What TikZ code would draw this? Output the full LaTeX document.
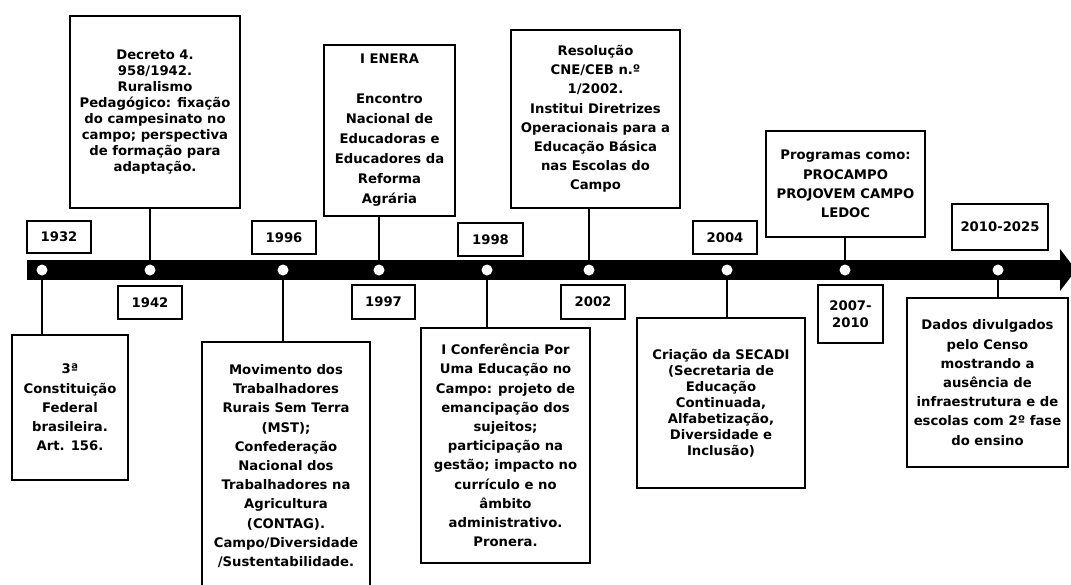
\documentclass[tikz,border=0pt]{standalone}
\usepackage{fontspec}
\setmainfont{DejaVu Sans}
\usepackage{tikz}
\usetikzlibrary{positioning}
\tikzset{>=latex}
\tikzset{
  yearbox/.style={draw, line width=1.4pt, inner sep=0pt, align=center,
    font=\bfseries\fontsize{13.2}{17}\selectfont},
  descbox/.style={draw, line width=1.4pt, inner sep=0pt, align=center,
    font=\bfseries\fontsize{13.2}{19.2}\selectfont},
  tightbox/.style={font=\bfseries\fontsize{13.2}{16}\selectfont},
  widebox/.style={font=\bfseries\fontsize{13.2}{20}\selectfont},
  dot/.style={circle, fill=white, inner sep=0pt, minimum size=11pt},
  link/.style={line width=1.4pt}
}

\begin{document}
\begin{tikzpicture}[x=1pt, y=-1pt]
\useasboundingbox (0,0) rectangle (1071,584);
\fill (27,260) rectangle (1060,280);
\fill (1060,249) -- (1076,270) -- (1060,291) -- cycle;
\node[dot] (d1932) at (42,270) {};
\node[dot] (d1942) at (150,270) {};
\node[dot] (d1996) at (283,270) {};
\node[dot] (d1997) at (379,270) {};
\node[dot] (d1998) at (487,270) {};
\node[dot] (d2002) at (589,270) {};
\node[dot] (d2004) at (727,270) {};
\node[dot] (d2007) at (845,270) {};
\node[dot] (d2010) at (998,270) {};

\node[yearbox, minimum width=64pt, minimum height=32pt] (y1932) at (59,237) {1932};
\node[yearbox, minimum width=64pt, minimum height=33pt] (y1942) at (150,302.5) {1942};
\node[yearbox, minimum width=64pt, minimum height=33pt] (y1996) at (284,237.5) {1996};
\node[yearbox, minimum width=63pt, minimum height=34pt] (y1997) at (383.5,302) {1997};
\node[yearbox, minimum width=65pt, minimum height=33pt] (y1998) at (490.5,239.5) {1998};
\node[yearbox, minimum width=64pt, minimum height=34pt] (y2002) at (593,302) {2002};
\node[yearbox, minimum width=64pt, minimum height=33pt] (y2004) at (725,237.5) {2004};
\node[yearbox, minimum width=65pt, minimum height=58pt] (y2007) at (850.5,314) {2007-\\2010};
\node[yearbox, minimum width=96pt, minimum height=46pt] (y2010) at (1000,227) {2010-2025};

\node[descbox, minimum width=116pt, minimum height=145pt] (const) at (70,407.5)
  {3ª\\Constituição\\Federal\\brasileira.\\Art. 156.};
\node[descbox, tightbox, minimum width=170pt, minimum height=192pt] (decreto) at (155,112)
  {Decreto 4.\\958/1942.\\Ruralismo\\Pedagógico: fixação\\do campesinato no\\campo; perspectiva\\de formação para\\adaptação.};
\node[descbox, minimum width=168pt, minimum height=248pt] (mst) at (286,466)
  {Movimento dos\\Trabalhadores\\Rurais Sem Terra\\(MST);\\Confederação\\Nacional dos\\Trabalhadores na\\Agricultura\\(CONTAG).\\Campo/Diversidade\\/Sustentabilidade.};
\node[descbox, widebox, minimum width=131pt, minimum height=171pt] (enera) at (389.5,130.5)
  {I ENERA\\[20pt]Encontro\\Nacional de\\Educadoras e\\Educadores da\\Reforma\\Agrária};
\node[descbox, minimum width=169pt, minimum height=235pt] (conf) at (505.5,445.5)
  {I Conferência Por\\Uma Educação no\\Campo: projeto de\\emancipação dos\\sujeitos;\\participação na\\gestão; impacto no\\currículo e no\\âmbito\\administrativo.\\Pronera.};
\node[descbox, minimum width=169pt, minimum height=178pt] (resol) at (595.5,119)
  {Resolução\\CNE/CEB n.º\\1/2002.\\Institui Diretrizes\\Operacionais para a\\Educação Básica\\nas Escolas do\\Campo};
\node[descbox, tightbox, minimum width=168pt, minimum height=170pt] (secadi) at (721,403)
  {Criação da SECADI\\(Secretaria de\\Educação\\Continuada,\\Alfabetização,\\Diversidade e\\Inclusão)};
\node[descbox, minimum width=159pt, minimum height=106pt] (prog) at (845.5,184)
  {Programas como:\\PROCAMPO\\PROJOVEM CAMPO\\LEDOC};
\node[descbox, minimum width=161pt, minimum height=169pt] (dados) at (987.5,382.5)
  {Dados divulgados\\pelo Censo\\mostrando a\\ausência de\\infraestrutura e de\\escolas com 2º fase\\do ensino};

\draw[link] (d1932.south) -- (d1932.south |- const.north);
\draw[link] (decreto.south -| d1942) -- (d1942.north);
\draw[link] (d1996.south) -- (d1996.south |- mst.north);
\draw[link] (enera.south -| d1997) -- (d1997.north);
\draw[link] (d1998.south) -- (d1998.south |- conf.north);
\draw[link] (resol.south -| d2002) -- (d2002.north);
\draw[link] (d2004.south) -- (d2004.south |- secadi.north);
\draw[link] (prog.south -| d2007) -- (d2007.north);
\draw[link] (d2010.south) -- (d2010.south |- dados.north);
\end{tikzpicture}
\end{document}
